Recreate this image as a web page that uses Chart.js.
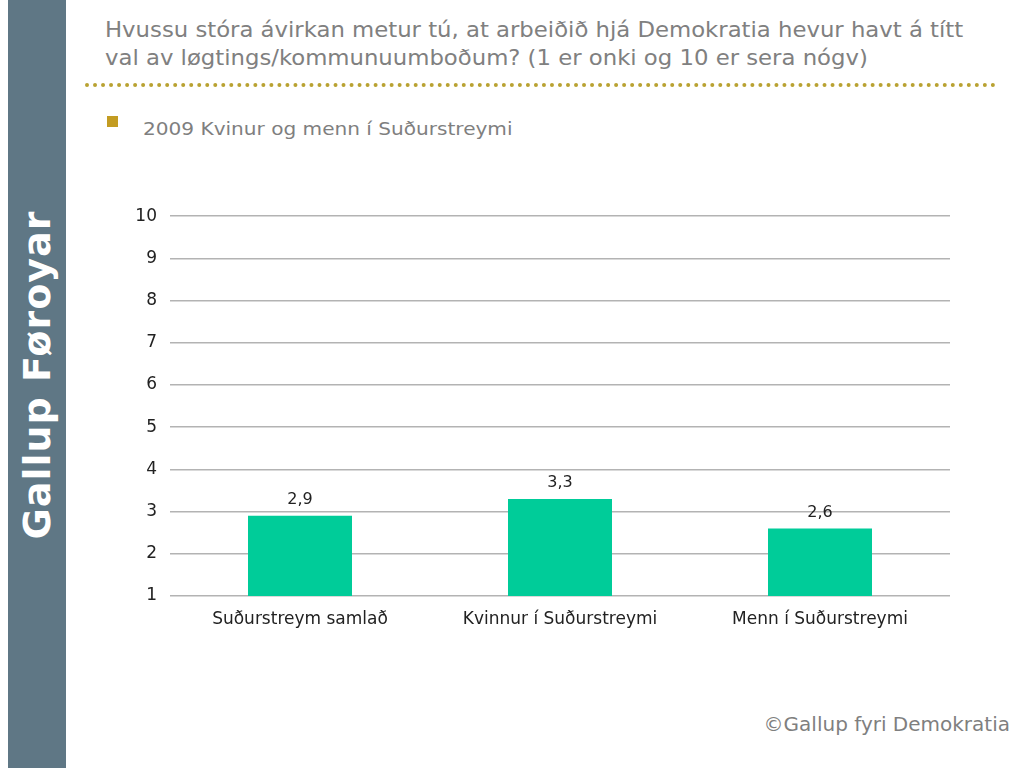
<!DOCTYPE html>
<html>
<head>
<meta charset="utf-8">
<script src="https://cdn.jsdelivr.net/npm/chart.js@4/dist/chart.umd.min.js"></script>
<style>
  html, body { margin: 0; padding: 0; background: #fff; }
  body { width: 1024px; height: 768px; position: relative; overflow: hidden; font-family: "DejaVu Sans", Verdana, sans-serif; }
  #side { position: absolute; left: 8px; top: 0; width: 58px; height: 768px; background: #5f7785; }
  #side span { position: absolute; left: 29px; top: 375px; transform: translate(-50%, -50%) rotate(-90deg); white-space: nowrap;
    color: #fff; font-weight: bold; font-size: 38px; letter-spacing: 1px; font-family: "DejaVu Sans", Verdana, sans-serif; }
  #title { position: absolute; left: 105px; top: 16px; width: 775px; color: #808080; font-size: 22px; line-height: 28px;
    font-family: "DejaVu Sans Condensed", "DejaVu Sans", sans-serif; transform: scaleX(1.15); transform-origin: left top; }
  #dots { position: absolute; left: 85px; top: 83px; width: 911px; height: 0; border-top: 4px dotted #b9a232; }
  #bullet { position: absolute; left: 107px; top: 116px; width: 11px; height: 11px; background: #c39c22; }
  #legend { position: absolute; left: 143px; top: 118px; color: #7f7f7f; font-size: 18px; white-space: nowrap;
    font-family: "DejaVu Sans Condensed", "DejaVu Sans", sans-serif; transform: scaleX(1.24); transform-origin: left top; }
  #foot { position: absolute; right: 14px; top: 712px; color: #7f7f7f; font-size: 20px; }
  #wrap { position: absolute; left: 100px; top: 193px; width: 860px; height: 448px; }
</style>
</head>
<body>
<div id="side"><span>Gallup Føroyar</span></div>
<div id="title">Hvussu stóra ávirkan metur tú, at arbeiðið hjá Demokratia hevur havt á títt val av løgtings/kommunuumboðum? (1 er onki og 10 er sera nógv)</div>
<div id="dots"></div>
<div id="bullet"></div>
<div id="legend">2009 Kvinur og menn í Suðurstreymi</div>
<div id="foot">©Gallup fyri Demokratia</div>
<div id="wrap"><canvas id="chart"></canvas></div>
<script>
// Data
const categories = ['Suðurstreym samlað', 'Kvinnur í Suðurstreymi', 'Menn í Suðurstreymi']
const values = [2.9, 3.3, 2.6]
const yTicks = [1, 2, 3, 4, 5, 6, 7, 8, 9, 10]

// labels above the bars, comma decimals
const barLabels = {
    id: 'barLabels',
    afterDatasetsDraw(chart) {
        const ctx = chart.ctx
        const meta = chart.getDatasetMeta(0)
        ctx.save()
        ctx.font = '16px "DejaVu Sans", Verdana, sans-serif'
        ctx.fillStyle = '#222'
        ctx.textAlign = 'center'
        ctx.textBaseline = 'bottom'
        meta.data.forEach((bar, i) => {
            ctx.fillText(values[i].toFixed(1).replace('.', ','), bar.x, bar.y - 8)
        })
        ctx.restore()
    }
}

let chartCanvas = document.querySelector('canvas#chart')
var barChart = new Chart(chartCanvas, {
    type: 'bar',
    data: {
        labels: categories,
        datasets: [{
            data: values,
            backgroundColor: '#00cc99',
            borderWidth: 0,
            categoryPercentage: 1,
            barPercentage: 0.4
        }]
    },
    options: {
        responsive: true,
        maintainAspectRatio: false,
        animation: false,
        layout: { padding: { top: 9, right: 10 } },
        plugins: {
            legend: { display: false },
            tooltip: { enabled: false }
        },
        scales: {
            x: {
                grid: { display: false },
                border: { display: false },
                ticks: { color: '#222', font: { size: 17, family: '"DejaVu Sans", Verdana, sans-serif' }, padding: 5 },
                afterFit: (s) => { s.height = 45 }
            },
            y: {
                min: 1,
                max: 10,
                afterBuildTicks: (s) => { s.ticks = yTicks.map(v => ({ value: v })) },
                grid: { color: '#b3b3b3', lineWidth: 1.5, drawTicks: false },
                border: { display: false },
                ticks: { color: '#222', font: { size: 17, family: '"DejaVu Sans", Verdana, sans-serif' }, padding: 13 },
                afterFit: (s) => { s.width = 70 }
            }
        }
    },
    plugins: [barLabels]
})
</script>
</body>
</html>
